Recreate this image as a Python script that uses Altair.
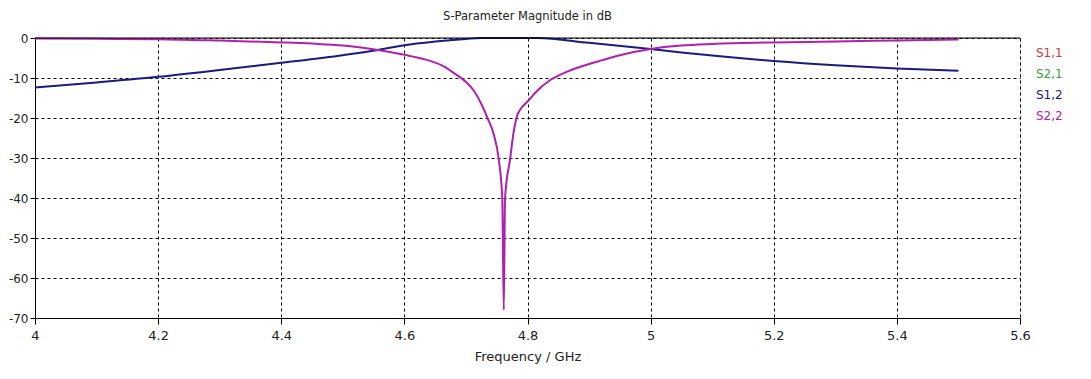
import altair as alt
import pandas as pd

# ---- data ----
series_names = ["S1,1", "S2,1", "S1,2", "S2,2"]
series_colors = ["#c83c3c", "#3ca03c", "#1a1a80", "#b020b0"]

freq_s12 = [4.0, 4.1, 4.2, 4.3, 4.4, 4.5, 4.557, 4.6, 4.65, 4.7, 4.725, 4.816,
            4.9, 5.0, 5.05, 5.1, 5.2, 5.3, 5.4, 5.5]
db_s12 = [-12.4, -11.1, -9.7, -8.0, -6.2, -4.3, -3.0, -1.8, -0.9, -0.25, 0.0, 0.0,
          -1.2, -2.75, -3.6, -4.4, -5.75, -6.8, -7.6, -8.2]

freq_s22 = [4.0, 4.1, 4.2, 4.3, 4.4, 4.45, 4.5, 4.557, 4.6, 4.63, 4.66, 4.68, 4.7,
            4.712, 4.725, 4.735, 4.745, 4.753, 4.759, 4.7615, 4.7635, 4.772, 4.777,
            4.782, 4.79, 4.8, 4.815, 4.837, 4.86, 4.886, 4.92, 4.95, 5.0, 5.05,
            5.1, 5.2, 5.3, 5.4, 5.5]
db_s22 = [-0.1, -0.2, -0.3, -0.65, -1.1, -1.4, -1.85, -3.0, -4.2, -5.2, -6.8, -8.7, -11.0,
          -13.0, -16.5, -20.0, -24.0, -30.0, -40.0, -68.0, -40.0, -30.0, -24.0,
          -20.0, -17.5, -15.9, -13.3, -10.5, -8.7, -7.2, -5.6, -4.3, -2.75, -1.9,
          -1.5, -1.1, -0.9, -0.6, -0.35]

x_ticks = [4.0, 4.2, 4.4, 4.6, 4.8, 5.0, 5.2, 5.4, 5.6]
y_ticks = [-70.0, -60.0, -50.0, -40.0, -30.0, -20.0, -10.0, 0.0]
y_top = [0]

df = pd.concat([
    pd.DataFrame({"freq": freq_s12, "db": db_s12, "series": "S1,2"}),
    pd.DataFrame({"freq": freq_s22, "db": db_s22, "series": "S2,2"}),
], ignore_index=True)

font = "DejaVu Sans"

label_color_expr = (
    "datum.value == 'S1,1' ? '%s' : datum.value == 'S2,1' ? '%s' : "
    "datum.value == 'S1,2' ? '%s' : '%s'" % tuple(series_colors)
)

x_enc = alt.X(
    "freq:Q",
    scale=alt.Scale(domain=[x_ticks[0], x_ticks[-1]], nice=False, zero=False),
    axis=alt.Axis(values=x_ticks, format="~f", title="Frequency / GHz", tickCount=20,
                  grid=True, gridColor="black", gridDash=[3, 3], gridOpacity=1,
                  domainColor="black", tickColor="black", tickSize=6,
                  labelOverlap=False, labelFlush=False,
                  labelFont=font, labelFontSize=13, labelColor="#222", labelPadding=5,
                  titleFont=font, titleFontSize=13, titleFontWeight="normal",
                  titleColor="#222", titlePadding=8),
)
y_enc = alt.Y(
    "db:Q",
    scale=alt.Scale(domain=[y_ticks[0], y_ticks[-1]], nice=False),
    axis=alt.Axis(values=y_ticks, labelExpr="replace(format(datum.value, 'd'), '\u2212', '-')",
                  title=None, tickCount=20,
                  grid=True, gridColor="black", gridDash=[3, 3], gridOpacity=1,
                  domainColor="black", tickColor="black", tickSize=5,
                  labelOverlap=False, labelFlush=False,
                  labelFont=font, labelFontSize=12, labelColor="#222", labelPadding=2),
)

lines = alt.Chart(df).mark_line(strokeWidth=2, interpolate="monotone").encode(
    x=x_enc,
    y=y_enc,
    color=alt.Color(
        "series:N",
        scale=alt.Scale(domain=series_names, range=series_colors),
        legend=alt.Legend(
            title=None, orient="none", legendX=989, legendY=9,
            symbolSize=0, symbolOpacity=0, symbolStrokeWidth=0,
            labelOffset=0, padding=0, rowPadding=9,
            labelFont=font, labelFontSize=12,
            labelColor={"expr": label_color_expr},
        ),
    ),
    order=alt.Order("freq:Q"),
)

top_rule = alt.Chart(pd.DataFrame({"db": y_top})).mark_rule(color="black", strokeWidth=1).encode(
    y=alt.Y("db:Q")
)

chart = alt.layer(lines, top_rule).properties(
    width=985,
    height=280,
    title=alt.TitleParams("S-Parameter Magnitude in dB", font=font, fontSize=11.5,
                          fontWeight="normal", color="#222", anchor="middle", offset=10),
    autosize=alt.AutoSizeParams(type="none"),
    padding={"left": 27, "top": 30, "right": 60, "bottom": 52},
).configure_view(stroke=None).configure(background="white")

chart.save("out.html", embed_options={"renderer": "svg", "actions": False})
